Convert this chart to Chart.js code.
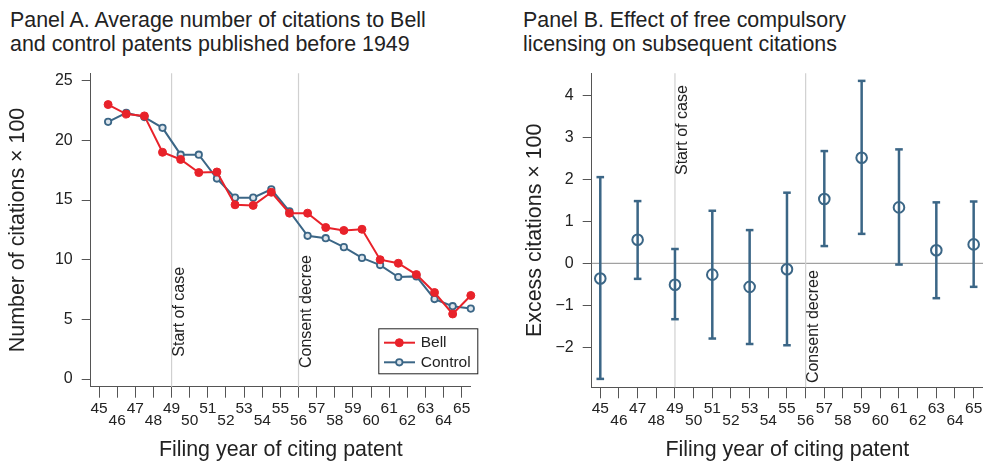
<!DOCTYPE html>
<html>
<head>
<meta charset="utf-8">
<script src="https://cdn.jsdelivr.net/npm/chart.js@4.4.1/dist/chart.umd.min.js"></script>
<style>
    body { margin: 0; background: #fff; }
    #wrap { position: relative; width: 983px; height: 463px; overflow: hidden; }
    .panel-title {
        position: absolute; top: 8px; margin: 0;
        font-family: 'Liberation Sans', Arial, sans-serif;
        font-size: 21.4px; line-height: 24.4px; color: #222; font-weight: normal;
        white-space: nowrap;
    }
    canvas { position: absolute; top: 0; }
</style>
</head>
<body>
<div id="wrap">
    <div class="panel-title" style="left: 10px;">Panel A. Average number of citations to Bell<br>and control patents published before 1949</div>
    <div class="panel-title" style="left: 523px;">Panel B. Effect of free compulsory<br>licensing on subsequent citations</div>
    <canvas id="panelA" width="490" height="463" style="left: 0;"></canvas>
    <canvas id="panelB" width="510" height="463" style="left: 490px;"></canvas>
</div>
<script>
// Panel A: citations x 100, one value per filing year (plotted mid-year)
const filingYears = [45, 46, 47, 48, 49, 50, 51, 52, 53, 54, 55, 56, 57, 58, 59, 60, 61, 62, 63, 64, 65];
const bellCitations = [23.0, 22.2, 22.05, 19.0, 18.4, 17.3, 17.35, 14.6, 14.55, 15.65, 13.9, 13.9, 12.7, 12.45, 12.55, 10.0, 9.7, 8.75, 7.25, 5.45, 7.0];
const controlCitations = [21.55, 22.3, 21.95, 21.05, 18.8, 18.8, 16.8, 15.2, 15.2, 15.9, 14.05, 12.0, 11.8, 11.05, 10.15, 9.55, 8.55, 8.6, 6.7, 6.1, 5.9];

// Panel B: excess citations x 100 with confidence bounds
const effectYears = [45, 47, 49, 51, 53, 55, 57, 59, 61, 63, 65];
const excessCitations = [-0.36, 0.56, -0.51, -0.27, -0.56, -0.14, 1.53, 2.51, 1.33, 0.31, 0.45];
const upperBound = [2.05, 1.48, 0.34, 1.25, 0.79, 1.68, 2.67, 4.34, 2.71, 1.45, 1.47];
const lowerBound = [-2.75, -0.37, -1.33, -1.79, -1.92, -1.95, 0.41, 0.70, -0.03, -0.83, -0.56];

// Tick labels
const xTickYears = [45, 46, 47, 48, 49, 50, 51, 52, 53, 54, 55, 56, 57, 58, 59, 60, 61, 62, 63, 64, 65];
const yTicksA = [0, 5, 10, 15, 20, 25];
const yTicksB = [-2, -1, 0, 1, 2, 3, 4];

const FONT = "'Liberation Sans', Arial, sans-serif";
const BLUE = '#3b6686';
const RED = '#e8222a';
const AXIS = '#555';

Chart.defaults.font.family = FONT;
Chart.defaults.color = '#222';

// vertical event lines, their rotated labels and optional zero line
const refLinesPlugin = {
    id: 'refLines',
    beforeDatasetsDraw(chart, args, opts) {
        const { ctx, chartArea: a, scales: { x, y } } = chart;
        ctx.save();
        if (opts.zero) {
            const py = y.getPixelForValue(0);
            ctx.strokeStyle = '#8a8a8a';
            ctx.lineWidth = 1;
            ctx.beginPath();
            ctx.moveTo(a.left, py);
            ctx.lineTo(a.right, py);
            ctx.stroke();
        }
        opts.lines.forEach(l => {
            const px = x.getPixelForValue(l.x);
            ctx.strokeStyle = '#d0d0d0';
            ctx.lineWidth = 1.2;
            ctx.beginPath();
            ctx.moveTo(px, a.top);
            ctx.lineTo(px, a.bottom);
            ctx.stroke();

            ctx.save();
            ctx.translate(px + 8, y.getPixelForValue(l.labelAt));
            ctx.rotate(-Math.PI / 2);
            ctx.font = `16px ${FONT}`;
            ctx.fillStyle = '#222';
            ctx.textAlign = 'left';
            ctx.textBaseline = 'middle';
            ctx.fillText(l.text, 0, 0);
            ctx.restore();
        });
        ctx.restore();
    }
};

// boxed legend in the lower right corner of panel A
const boxLegendPlugin = {
    id: 'boxLegend',
    afterDatasetsDraw(chart, args, opts) {
        if (!opts.show) return;
        const { ctx, chartArea: a } = chart;
        const left = a.right - 92.5;
        const top = a.bottom - 58.4;
        ctx.save();
        ctx.fillStyle = '#fff';
        ctx.fillRect(left, top, 99, 45);
        ctx.strokeStyle = '#222';
        ctx.lineWidth = 1;
        ctx.strokeRect(left + 0.5, top + 0.5, 99, 45);
        chart.data.datasets.forEach((ds, i) => {
            const cy = top + 14.4 + i * 19.6;
            ctx.strokeStyle = ds.borderColor;
            ctx.lineWidth = ds.borderWidth;
            ctx.beginPath();
            ctx.moveTo(left + 5.7, cy);
            ctx.lineTo(left + 36.7, cy);
            ctx.stroke();
            ctx.beginPath();
            ctx.arc(left + 21, cy, ds.pointRadius, 0, Math.PI * 2);
            ctx.fillStyle = ds.pointBackgroundColor;
            ctx.fill();
            ctx.lineWidth = ds.pointBorderWidth;
            ctx.strokeStyle = ds.borderColor;
            ctx.stroke();
            ctx.font = `15.5px ${FONT}`;
            ctx.fillStyle = '#222';
            ctx.textAlign = 'left';
            ctx.textBaseline = 'middle';
            ctx.fillText(ds.label, left + 42.4, cy);
        });
        ctx.restore();
    }
};

function xAxis(height) {
    return {
        type: 'linear',
        min: 44.54,
        max: 65.5,
        afterBuildTicks: scale => { scale.ticks = xTickYears.map(v => ({ value: v })); },
        afterFit: scale => { scale.height = height; },
        border: { display: true, color: AXIS, width: 1 },
        grid: { drawOnChartArea: false, drawTicks: true, tickLength: 11, color: AXIS },
        ticks: {
            autoSkip: false, maxRotation: 0, padding: 5,
            font: { size: 15.5, lineHeight: 0.755 },
            callback: (v, i) => (i % 2 === 0 ? String(v) : ['', String(v)])
        },
        title: {
            display: true, text: 'Filing year of citing patent',
            font: { size: 21.4, lineHeight: 1.2 }, padding: { top: 0, bottom: 0.2 }
        }
    };
}

function yAxis(min, max, ticks, width, title, titlePad) {
    return {
        type: 'linear',
        min: min,
        max: max,
        afterBuildTicks: scale => { scale.ticks = ticks.map(v => ({ value: v })); },
        afterFit: scale => { scale.width = width; },
        border: { display: true, color: AXIS, width: 1 },
        grid: { drawOnChartArea: false, drawTicks: true, tickLength: 9, color: AXIS },
        ticks: {
            padding: 9,
            font: { size: 16 },
            callback: v => String(v).replace('-', '\u2212')
        },
        title: {
            display: true, text: title,
            font: { size: 21.4, lineHeight: 1.2 }, padding: { top: titlePad, bottom: 0 }
        }
    };
}

// Panel A
new Chart(document.getElementById('panelA'), {
    type: 'line',
    data: {
        datasets: [
            {
                label: 'Bell',
                data: filingYears.map((yr, i) => ({ x: yr + 0.5, y: bellCitations[i] })),
                borderColor: RED,
                borderWidth: 2,
                pointRadius: 4,
                pointBackgroundColor: RED,
                pointBorderWidth: 1,
                pointBorderColor: RED,
                tension: 0,
                clip: false
            },
            {
                label: 'Control',
                data: filingYears.map((yr, i) => ({ x: yr + 0.5, y: controlCitations[i] })),
                borderColor: BLUE,
                borderWidth: 2,
                pointRadius: 3.2,
                pointBackgroundColor: '#dde5ec',
                pointBorderWidth: 1.8,
                pointBorderColor: BLUE,
                tension: 0,
                clip: false
            }
        ]
    },
    options: {
        responsive: false,
        animation: false,
        layout: { padding: { left: 0, right: 19.2, top: 73.3, bottom: 0 } },
        plugins: {
            legend: { display: false },
            tooltip: { enabled: false },
            refLines: {
                zero: false,
                lines: [
                    { x: 49, text: 'Start of case', labelAt: 1.87 },
                    { x: 56, text: 'Consent decree', labelAt: 0.92 }
                ]
            },
            boxLegend: { show: true }
        },
        scales: {
            x: xAxis(76.3),
            y: yAxis(-0.645, 25.62, yTicksA, 90.7, 'Number of citations \u00d7 100', 5.5)
        }
    },
    plugins: [refLinesPlugin, boxLegendPlugin]
});

// Panel B: whiskers as broken line segments with 'line' caps, hollow point estimates
const whiskerData = effectYears.flatMap((yr, i) => [
    { x: yr, y: lowerBound[i] },
    { x: yr, y: upperBound[i] },
    { x: yr, y: null }
]);

new Chart(document.getElementById('panelB'), {
    type: 'line',
    data: {
        datasets: [
            {
                label: 'Estimate',
                data: effectYears.map((yr, i) => ({ x: yr, y: excessCitations[i] })),
                showLine: false,
                pointStyle: 'circle',
                pointRadius: 5.3,
                pointBorderWidth: 2,
                pointBorderColor: BLUE,
                pointBackgroundColor: 'rgba(0,0,0,0)',
                clip: false
            },
            {
                label: 'CI',
                data: whiskerData,
                borderColor: BLUE,
                borderWidth: 2.5,
                spanGaps: false,
                pointStyle: 'line',
                pointRadius: 3.8,
                pointBorderWidth: 2.5,
                pointBorderColor: BLUE,
                clip: false
            }
        ]
    },
    options: {
        responsive: false,
        animation: false,
        layout: { padding: { left: 0, right: 17, top: 73.3, bottom: 0 } },
        plugins: {
            legend: { display: false },
            tooltip: { enabled: false },
            refLines: {
                zero: true,
                lines: [
                    { x: 49, text: 'Start of case', labelAt: 2.1 },
                    { x: 56, text: 'Consent decree', labelAt: -2.85 }
                ]
            },
            boxLegend: { show: false }
        },
        scales: {
            x: xAxis(75.7),
            y: yAxis(-2.95, 4.52, yTicksB, 101.7, 'Excess citations \u00d7 100', 32.2)
        }
    },
    plugins: [refLinesPlugin, boxLegendPlugin]
});
</script>
</body>
</html>
